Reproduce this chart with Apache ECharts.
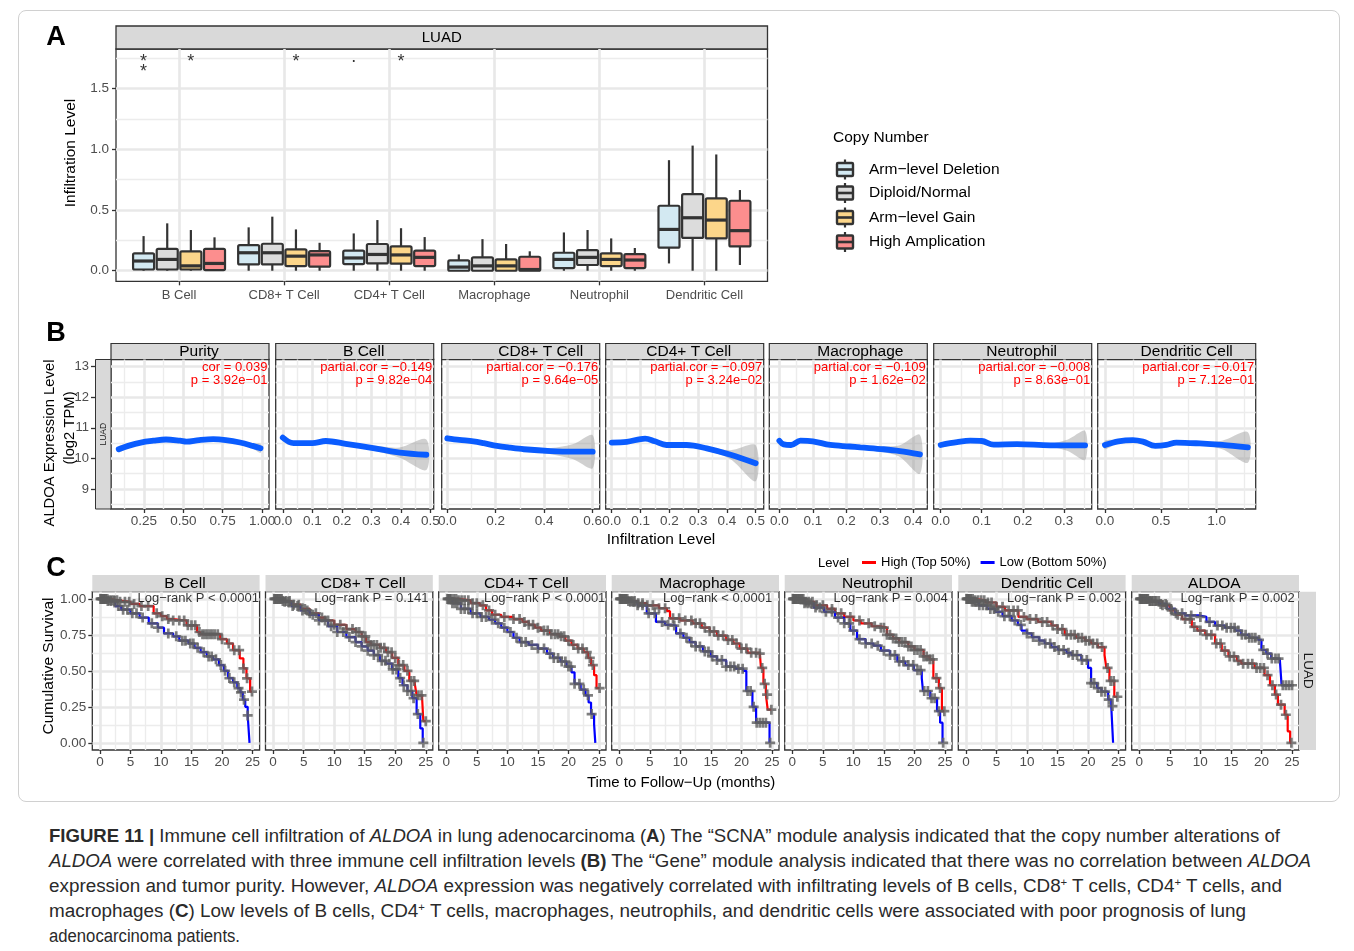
<!DOCTYPE html>
<html>
<head>
<meta charset="utf-8">
<script src="https://cdn.jsdelivr.net/npm/echarts@6/dist/echarts.min.js"></script>
<style>
  html, body { margin: 0; padding: 0; background: #fff; }
  #wrap { position: relative; width: 1354px; height: 951px; overflow: hidden; }
  #frame { position: absolute; left: 18px; top: 10px; width: 1320px; height: 790px; border: 1px solid #d0d0d0; border-radius: 8px; }
  #chart { position: absolute; left: 0; top: 0; width: 1354px; height: 810px; }
  .cap { position: absolute; left: 49px; white-space: nowrap; display: inline-block; transform-origin: 0 50%;
         font-family: "Liberation Sans Narrow", "Liberation Sans", Arial, sans-serif; font-size: 18px; color: #2a2a2a; line-height: 20px; }
  .cap sup { font-size: 60%; line-height: 0; vertical-align: 0.6em; }
</style>
</head>
<body>
<div id="wrap">
  <div id="frame"></div>
  <div id="chart"></div>
  <div class="cap" style="top:826px"><b>FIGURE 11 |</b> Immune cell infiltration of <i>ALDOA</i> in lung adenocarcinoma (<b>A</b>) The “SCNA” module analysis indicated that the copy number alterations of</div>
  <div class="cap" style="top:851px"><i>ALDOA</i> were correlated with three immune cell infiltration levels <b>(B)</b> The “Gene” module analysis indicated that there was no correlation between <i>ALDOA</i></div>
  <div class="cap" style="top:876px">expression and tumor purity. However, <i>ALDOA</i> expression was negatively correlated with infiltrating levels of B cells, CD8<sup>+</sup> T cells, CD4<sup>+</sup> T cells, and</div>
  <div class="cap" style="top:901px">macrophages (<b>C</b>) Low levels of B cells, CD4<sup>+</sup> T cells, macrophages, neutrophils, and dendritic cells were associated with poor prognosis of lung</div>
  <div class="cap" style="top:926px">adenocarcinoma patients.</div>
</div>
<script>
const FONT = '"Liberation Sans", Arial, Helvetica, sans-serif';

// ---------- Panel A: copy number box plots ----------
const cellTypes = ['B Cell', 'CD8+ T Cell', 'CD4+ T Cell', 'Macrophage', 'Neutrophil', 'Dendritic Cell'];
const copyNumber = ['Arm−level Deletion', 'Diploid/Normal', 'Arm−level Gain', 'High Amplication'];
const copyColors = ['#d3e9f2', '#dcdcdc', '#fcd68a', '#fc8e8e'];
// [lower whisker, Q1, median, Q3, upper whisker] per cell type
const boxDeletion = [[0, 0.01, 0.08, 0.143, 0.285], [0, 0.052, 0.148, 0.21, 0.357], [0, 0.055, 0.105, 0.165, 0.307], [0, 0.0, 0.03, 0.085, 0.134], [0, 0.022, 0.093, 0.148, 0.315], [0.06, 0.19, 0.34, 0.535, 0.91]];
const boxDiploid = [[0, 0.01, 0.093, 0.18, 0.39], [0, 0.052, 0.148, 0.222, 0.445], [0, 0.06, 0.134, 0.22, 0.417], [0, 0.0, 0.04, 0.11, 0.26], [0, 0.047, 0.11, 0.17, 0.335], [0, 0.27, 0.436, 0.63, 1.03]];
const boxGain = [[0, 0.01, 0.04, 0.16, 0.335], [0, 0.038, 0.12, 0.176, 0.34], [0, 0.058, 0.13, 0.2, 0.35], [0, 0.0, 0.04, 0.093, 0.22], [0, 0.038, 0.093, 0.143, 0.266], [0, 0.266, 0.417, 0.595, 0.957]];
const boxHighAmp = [[0, 0.005, 0.06, 0.18, 0.275], [0, 0.033, 0.13, 0.162, 0.23], [0, 0.038, 0.11, 0.165, 0.277], [0, 0.0, 0.01, 0.115, 0.16], [0, 0.022, 0.088, 0.137, 0.187], [0.047, 0.2, 0.33, 0.576, 0.664]];
const sigCell = [0, 0, 1, 2, 2];
const sigGroup = [0, 2, 2, 0, 2];
const sigMark = ['*\n*', '*', '*', '.', '*'];
const aYTicks = [0, 0.5, 1, 1.5];
const aYMinor = [0.25, 0.75, 1.25, 1.75];

// ---------- Panel B: correlation fits ----------
const corrPanels = ['Purity', 'B Cell', 'CD8+ T Cell', 'CD4+ T Cell', 'Macrophage', 'Neutrophil', 'Dendritic Cell'];
const corrLabel = ['cor = 0.039', 'partial.cor = −0.149', 'partial.cor = −0.176', 'partial.cor = −0.097', 'partial.cor = −0.109', 'partial.cor = −0.008', 'partial.cor = −0.017'];
const corrP = ['p = 3.92e−01', 'p = 9.82e−04', 'p = 9.64e−05', 'p = 3.24e−02', 'p = 1.62e−02', 'p = 8.63e−01', 'p = 7.12e−01'];
const purityX = [0.09, 0.15, 0.23, 0.31, 0.39, 0.48, 0.52, 0.60, 0.69, 0.77, 0.86, 0.94, 0.99];
const purityFit = [10.30, 10.41, 10.52, 10.58, 10.62, 10.58, 10.55, 10.60, 10.63, 10.60, 10.52, 10.41, 10.33];
const purityLo = [10.20, 10.35, 10.48, 10.55, 10.59, 10.55, 10.52, 10.57, 10.60, 10.56, 10.47, 10.33, 10.18];
const purityHi = [10.40, 10.47, 10.56, 10.61, 10.65, 10.61, 10.58, 10.63, 10.66, 10.64, 10.57, 10.49, 10.48];
const bcellX = [0.0, 0.036, 0.1, 0.146, 0.213, 0.306, 0.396, 0.486];
const bcellFit = [10.68, 10.50, 10.50, 10.57, 10.48, 10.34, 10.19, 10.12];
const bcellLo = [10.58, 10.45, 10.46, 10.53, 10.43, 10.26, 10.02, 9.62];
const bcellHi = [10.78, 10.55, 10.54, 10.61, 10.53, 10.42, 10.36, 10.62];
const cd8X = [0.0, 0.05, 0.108, 0.15, 0.205, 0.26, 0.316, 0.427, 0.52, 0.6];
const cd8Fit = [10.66, 10.61, 10.56, 10.50, 10.41, 10.35, 10.30, 10.24, 10.22, 10.22];
const cd8Lo = [10.58, 10.57, 10.52, 10.46, 10.37, 10.31, 10.25, 10.14, 9.97, 9.68];
const cd8Hi = [10.74, 10.65, 10.60, 10.54, 10.45, 10.39, 10.35, 10.34, 10.47, 10.76];
const cd4X = [0.0, 0.052, 0.116, 0.15, 0.19, 0.26, 0.33, 0.413, 0.5];
const cd4Fit = [10.52, 10.54, 10.65, 10.56, 10.44, 10.44, 10.33, 10.12, 9.84];
const cd4Lo = [10.45, 10.50, 10.61, 10.52, 10.40, 10.39, 10.26, 9.97, 9.25];
const cd4Hi = [10.59, 10.58, 10.69, 10.60, 10.48, 10.49, 10.40, 10.27, 10.43];
const macX = [0.0, 0.013, 0.035, 0.063, 0.1, 0.152, 0.21, 0.242, 0.311, 0.36, 0.42];
const macFit = [10.58, 10.46, 10.44, 10.58, 10.56, 10.44, 10.39, 10.36, 10.30, 10.24, 10.13];
const macLo = [10.48, 10.40, 10.39, 10.54, 10.52, 10.40, 10.34, 10.30, 10.20, 10.05, 9.50];
const macHi = [10.68, 10.52, 10.49, 10.62, 10.60, 10.48, 10.44, 10.42, 10.40, 10.43, 10.77];
const neuX = [0.0, 0.04, 0.072, 0.1, 0.129, 0.186, 0.267, 0.31, 0.352];
const neuFit = [10.44, 10.53, 10.58, 10.57, 10.45, 10.47, 10.43, 10.43, 10.43];
const neuLo = [10.36, 10.49, 10.54, 10.53, 10.41, 10.43, 10.37, 10.24, 9.95];
const neuHi = [10.52, 10.57, 10.62, 10.61, 10.49, 10.51, 10.49, 10.62, 10.90];
const dcX = [0.0, 0.12, 0.25, 0.34, 0.45, 0.55, 0.64, 0.85, 1.05, 1.28];
const dcFit = [10.44, 10.56, 10.60, 10.55, 10.41, 10.44, 10.52, 10.49, 10.44, 10.36];
const dcLo = [10.30, 10.51, 10.56, 10.51, 10.37, 10.40, 10.48, 10.44, 10.30, 9.86];
const dcHi = [10.58, 10.61, 10.64, 10.59, 10.45, 10.48, 10.56, 10.54, 10.58, 10.86];
const bYTicks = [9, 10, 11, 12, 13];
const bYMinor = [8.5, 9.5, 10.5, 11.5, 12.5];
const bXRange = [[0.041, 1.044], [-0.024, 0.511], [-0.023, 0.629], [-0.021, 0.528], [-0.03, 0.442], [-0.017, 0.368], [-0.065, 1.35]];
const bXTicks = [[0.25, 0.5, 0.75, 1], [0, 0.1, 0.2, 0.3, 0.4, 0.5], [0, 0.2, 0.4, 0.6], [0, 0.1, 0.2, 0.3, 0.4, 0.5], [0, 0.1, 0.2, 0.3, 0.4], [0, 0.1, 0.2, 0.3], [0, 0.5, 1]];
const bXMinor = [[0.125, 0.375, 0.625, 0.875], [0.05, 0.15, 0.25, 0.35, 0.45], [0.1, 0.3, 0.5], [0.05, 0.15, 0.25, 0.35, 0.45], [0.05, 0.15, 0.25, 0.35], [0.05, 0.15, 0.25, 0.35], [0.25, 0.75, 1.25]];
const bXDigits = [2, 1, 1, 1, 1, 1, 1];

// ---------- Panel C: Kaplan-Meier curves ----------
const kmPanels = ['B Cell', 'CD8+ T Cell', 'CD4+ T Cell', 'Macrophage', 'Neutrophil', 'Dendritic Cell', 'ALDOA'];
const logRank = ['Log−rank P < 0.0001', 'Log−rank P = 0.141', 'Log−rank P < 0.0001', 'Log−rank < 0.0001', 'Log−rank P = 0.004', 'Log−rank P = 0.002', 'Log−rank P = 0.002'];
// [time, survival after the drop]
const bcellHigh = [[0, 1], [1.5, 0.99], [3, 0.98], [5, 0.965], [6.5, 0.95], [8.8, 0.9], [10, 0.88], [11, 0.86], [12, 0.85], [14.2, 0.816], [15.9, 0.77], [16.4, 0.755], [19.7, 0.72], [20.8, 0.69], [21.8, 0.644], [22.9, 0.586], [23.5, 0.517], [24, 0.448], [24.6, 0.356], [24.9, 0.356]];
const bcellLow = [[0, 1], [1, 0.985], [2.5, 0.95], [3.5, 0.925], [5, 0.9], [6.5, 0.87], [8, 0.83], [9.5, 0.8], [10.5, 0.76], [12, 0.74], [13, 0.71], [14.5, 0.69], [15.5, 0.66], [16.5, 0.63], [17.5, 0.6], [18.5, 0.58], [19.5, 0.54], [20.3, 0.5], [21, 0.45], [21.8, 0.42], [22.5, 0.38], [23, 0.35], [23.4, 0.3], [23.8, 0.25], [24.2, 0.19], [24.5, 0]];
const cd8High = [[0, 1], [1.5, 0.985], [3, 0.96], [4.5, 0.93], [6, 0.9], [7.5, 0.87], [8.5, 0.85], [10, 0.82], [12, 0.79], [13.5, 0.77], [14.5, 0.74], [15.2, 0.7], [16, 0.68], [17.5, 0.66], [18.5, 0.63], [19.5, 0.59], [20.5, 0.54], [21.5, 0.5], [22.3, 0.43], [23.2, 0.41], [23.5, 0.33], [24.4, 0.31], [24.6, 0.15], [25, 0.15]];
const cd8Low = [[0, 1], [1.5, 0.98], [3, 0.95], [4.5, 0.92], [6, 0.89], [7.5, 0.85], [9, 0.81], [10.5, 0.77], [12, 0.735], [13.5, 0.7], [14.5, 0.67], [15.5, 0.64], [16.5, 0.61], [17.5, 0.57], [18.5, 0.55], [19.5, 0.51], [20.5, 0.45], [21.2, 0.4], [22, 0.36], [22.8, 0.31], [23.5, 0.2], [24.1, 0.1], [24.5, 0], [24.6, 0]];
const cd4High = [[0, 1], [2, 0.99], [4, 0.97], [5.5, 0.955], [6.5, 0.92], [7.5, 0.89], [9, 0.875], [11, 0.86], [12.5, 0.84], [13.5, 0.82], [14.5, 0.8], [15.5, 0.78], [17, 0.755], [18.5, 0.74], [19.5, 0.71], [20.5, 0.68], [21.5, 0.655], [22.5, 0.63], [23.2, 0.59], [23.7, 0.54], [24.2, 0.47], [24.6, 0.38], [25.1, 0.38]];
const cd4Low = [[0, 1], [1, 0.97], [2.4, 0.93], [4, 0.9], [5.6, 0.875], [7, 0.855], [8, 0.83], [9, 0.8], [10, 0.77], [11, 0.73], [12, 0.7], [13.5, 0.68], [15, 0.655], [16.5, 0.62], [17.5, 0.59], [18.7, 0.565], [19.7, 0.53], [20.5, 0.49], [21, 0.41], [22, 0.37], [22.8, 0.33], [23.3, 0.28], [23.7, 0.2], [24.2, 0.13], [24.4, 0]];
const macHigh = [[0, 1], [1.5, 0.985], [3, 0.97], [4.5, 0.955], [6.5, 0.935], [7.8, 0.915], [8.3, 0.865], [10, 0.85], [12, 0.83], [13.5, 0.8], [14.8, 0.775], [16, 0.745], [17.5, 0.715], [18.7, 0.69], [19.7, 0.655], [21, 0.625], [23, 0.62], [23.2, 0.52], [23.6, 0.41], [24, 0.335], [24.3, 0.23], [24.9, 0.23]];
const macLow = [[0, 1], [1.5, 0.98], [3, 0.955], [4.5, 0.9], [6, 0.84], [7.5, 0.82], [8.5, 0.815], [9.3, 0.76], [10.5, 0.73], [11.5, 0.7], [12.5, 0.67], [13.7, 0.635], [15, 0.6], [16, 0.575], [17.5, 0.53], [19, 0.515], [20.3, 0.5], [20.8, 0.36], [21.8, 0.25], [22.4, 0.14], [24.6, 0], [24.7, 0]];
const neuHigh = [[0, 1], [2, 0.98], [3.6, 0.955], [5.7, 0.93], [7, 0.9], [8.5, 0.875], [10, 0.85], [11.2, 0.83], [13, 0.81], [14.4, 0.8], [15.5, 0.75], [16.5, 0.725], [17.5, 0.7], [19, 0.67], [20, 0.645], [21.5, 0.6], [22.5, 0.58], [23.1, 0.45], [24, 0.38], [24.5, 0.22], [24.9, 0.22]];
const neuLow = [[0, 1], [2, 0.97], [3.5, 0.94], [5.2, 0.91], [7, 0.87], [8.5, 0.83], [9.5, 0.78], [10.6, 0.72], [12, 0.69], [13.3, 0.675], [14.5, 0.64], [16, 0.61], [17.2, 0.565], [18.5, 0.54], [19.9, 0.505], [21.2, 0.45], [21.4, 0.36], [22.6, 0.31], [23.7, 0.22], [24.2, 0.14], [24.6, 0]];
const dcHigh = [[0, 1], [1.5, 0.99], [3.2, 0.975], [5, 0.945], [6.4, 0.92], [8.6, 0.875], [10, 0.86], [11.8, 0.84], [14, 0.815], [15, 0.79], [16.2, 0.75], [18, 0.73], [19.5, 0.71], [20.5, 0.69], [21.6, 0.665], [22.7, 0.61], [23, 0.52], [23.5, 0.43], [24.3, 0.32], [24.8, 0.32]];
const dcLow = [[0, 1], [1, 0.98], [2.1, 0.955], [3.5, 0.93], [4.8, 0.91], [6, 0.88], [7.5, 0.85], [8.5, 0.82], [9.1, 0.78], [10, 0.76], [10.8, 0.735], [12, 0.71], [12.9, 0.69], [14, 0.665], [15.1, 0.645], [16.5, 0.625], [17.3, 0.61], [18.9, 0.575], [20, 0.52], [20.5, 0.415], [21.5, 0.38], [22.2, 0.355], [23.3, 0.3], [23.8, 0.255], [24.1, 0]];
const aldoaHigh = [[0, 1], [1.5, 0.985], [3.7, 0.955], [5, 0.92], [6, 0.89], [7, 0.86], [8.6, 0.805], [9.5, 0.78], [10.8, 0.75], [12.4, 0.69], [13.5, 0.64], [14.6, 0.6], [16, 0.57], [16.7, 0.55], [18.9, 0.52], [20.5, 0.47], [21.4, 0.4], [22.2, 0.335], [22.7, 0.265], [23.8, 0.195], [24.3, 0.08], [24.7, 0], [24.9, 0]];
const aldoaLow = [[0, 1], [1.5, 0.985], [3.2, 0.965], [4.5, 0.93], [5.9, 0.9], [7.5, 0.885], [9.7, 0.875], [11, 0.84], [12.4, 0.815], [14, 0.8], [15.7, 0.78], [16.7, 0.75], [18, 0.73], [19.5, 0.715], [20, 0.645], [20.8, 0.62], [21.6, 0.585], [23, 0.575], [23.3, 0.4], [25, 0.4]];
// censoring times
const bcellHighCens = [0.1, 0.3, 0.5, 0.7, 0.9, 1.2, 1.5, 1.9, 2.3, 2.8, 3.3, 4.1, 4.8, 5.6, 6.8, 7.9, 9.3, 10.2, 11.2, 12, 13, 13.8, 14.4, 15, 15.6, 16.3, 16.8, 17.2, 17.6, 18, 18.4, 18.8, 19.3, 20, 21.1, 22, 22.8, 23.5, 24.1, 24.9];
const bcellLowCens = [0.2, 0.4, 0.6, 0.9, 1.3, 1.8, 2.4, 3, 3.8, 4.5, 5.3, 6, 7, 8.5, 9.5, 11.2, 12.5, 13.5, 14, 14.8, 15.3, 16, 17, 17.8, 18.3, 19, 19.8, 20.5, 21.2, 22, 22.7, 23.1, 23.6, 24.2];
const cd8HighCens = [0.2, 0.5, 0.8, 1.2, 1.6, 2.1, 2.7, 3.4, 4.2, 5.2, 6, 7, 8, 9, 10, 11, 12, 13, 13.6, 14.1, 14.6, 15.1, 15.6, 16, 16.5, 17, 17.6, 18.2, 18.8, 19.4, 20, 20.6, 21.3, 22, 22.6, 23.1, 23.8, 24.3, 25];
const cd8LowCens = [0.3, 0.6, 1, 1.4, 1.9, 2.5, 3.2, 4, 4.8, 5.6, 6.5, 7.5, 8.5, 9.5, 10.5, 11.5, 12.5, 13.5, 14.5, 15.5, 16.5, 17.2, 17.8, 18.4, 19, 19.6, 20.2, 20.8, 21.4, 22, 22.6, 23, 23.7, 24.6];
const cd4HighCens = [0.2, 0.5, 0.8, 1.2, 1.6, 2, 2.5, 3, 3.6, 4.3, 5, 6, 7, 8, 9.5, 11, 12, 12.8, 13.5, 14.2, 15, 16, 16.6, 17.2, 17.8, 18.3, 18.8, 19.3, 20, 20.8, 21.6, 22.3, 23, 23.5, 24, 25.1];
const cd4LowCens = [0.3, 0.6, 1, 1.4, 1.8, 2.4, 3, 3.6, 4.3, 5, 5.8, 6.5, 7.5, 8.5, 9.5, 10.5, 11.5, 12.3, 13, 14, 15, 16, 17, 17.6, 18.3, 18.9, 19.5, 20, 20.4, 21, 21.8, 22.5, 23.2, 23.8];
const macHighCens = [0.1, 0.3, 0.5, 0.8, 1.1, 1.5, 2, 2.5, 3.1, 3.8, 4.6, 5.5, 6.5, 7.5, 8.8, 9.8, 10.8, 11.8, 12.5, 13.2, 14, 14.8, 15.5, 16.2, 17, 17.8, 18.5, 19.2, 20, 20.8, 21.6, 22.4, 23, 23.4, 23.8, 24.2, 24.9];
const macLowCens = [0.2, 0.4, 0.7, 1, 1.3, 1.8, 2.3, 3, 3.8, 4.8, 5.8, 7, 8, 9, 10, 11, 11.8, 12.5, 13.2, 14, 14.6, 15.2, 16, 16.8, 17.5, 18.2, 18.8, 19.5, 20.2, 21, 21.5, 22, 22.5, 23, 23.5, 24, 24.7];
const neuHighCens = [0.1, 0.3, 0.5, 0.8, 1.1, 1.4, 1.8, 2.2, 2.7, 3.3, 4, 5, 6.5, 8, 9.5, 11, 12.5, 13.5, 14.5, 15, 15.5, 16, 16.5, 17, 17.5, 18, 18.5, 19, 19.5, 20, 20.5, 21, 21.5, 22, 22.5, 23, 23.6, 24.2, 24.9];
const neuLowCens = [0.2, 0.4, 0.6, 0.9, 1.2, 1.6, 2, 2.5, 3, 3.8, 4.5, 5.5, 6.5, 7.5, 8.5, 9.3, 10, 11, 12, 13, 14, 15, 16, 16.8, 17.5, 18.2, 19, 19.8, 20.5, 21, 21.6, 22.2, 22.8, 23.3, 24, 24.7];
const dcHighCens = [0.1, 0.3, 0.5, 0.8, 1.1, 1.5, 2, 2.5, 3, 3.6, 4.2, 5, 6, 7, 7.8, 8.5, 9.5, 10.5, 11.5, 12.5, 13.3, 14.2, 15, 15.8, 16.5, 17.2, 17.8, 18.4, 19, 19.6, 20.2, 20.8, 21.5, 22.3, 23.2, 23.7, 24.2, 24.8];
const dcLowCens = [0.2, 0.4, 0.7, 1, 1.3, 1.7, 2.2, 2.8, 3.4, 4, 4.6, 5.3, 6.3, 7.2, 8, 9, 10, 11, 12, 13, 13.8, 14.5, 15.2, 16, 16.8, 17.5, 18.2, 19, 19.8, 20.5, 21, 21.6, 22.2, 22.8, 23.4, 24];
const aldoaHighCens = [0.2, 0.4, 0.7, 1, 1.3, 1.7, 2.1, 2.6, 3.2, 3.8, 4.5, 5.3, 6.3, 7.5, 8.3, 9, 10, 11, 11.8, 12.6, 13.3, 14, 14.8, 15.5, 16.2, 17, 17.8, 18.5, 19.2, 19.8, 20.4, 21, 21.8, 22.4, 23.2, 24, 24.9];
const aldoaLowCens = [0.1, 0.3, 0.5, 0.8, 1.1, 1.4, 1.8, 2.3, 2.8, 3.5, 4.3, 5.2, 6, 7, 8.5, 10, 11.5, 12.8, 13.6, 14.3, 15, 15.6, 16.2, 16.8, 17.4, 18, 18.5, 19, 19.6, 20.3, 21, 21.7, 22.3, 22.8, 23.5, 24, 24.5, 25];
const cXTicks = [0, 5, 10, 15, 20, 25];
const cXMinor = [2.5, 7.5, 12.5, 17.5, 22.5];
const cYTicks = [0, 0.25, 0.5, 0.75, 1];
const cYMinor = [0.125, 0.375, 0.625, 0.875];

// ---------- layout (pixels) ----------
const A_RECT = { left: 116, top: 49, width: 651.5, height: 232.3 };
const B_LEFTS = [111, 275.7, 441.7, 605.7, 769.3, 933.7, 1097.7];
const B_TOP = 359.5, B_W = 158, B_H = 149.5;
const B_STRIP_DX = [9, 9, 20, 4, 12, 9, 10];
const C_LEFTS = [92.3, 265.5, 438.7, 611.7, 784.7, 958.3, 1131.7];
const C_TOP = 591.7, C_W = 167.3, C_H = 158.3;
const C_STRIP_DX = [9, 14, 4, 7, 9, 5, -1];
const DODGE = [-0.3375, -0.1125, 0.1125, 0.3375];
const BOX_W = 0.2;
const SIG_Y = 1.76;
const LOGRANK_X = 16.1;
const GRID_MAJOR = '#e8e8e8';
const GRID_MINOR = '#ececec';

const grids = [], xAxes = [], yAxes = [], series = [], graphic = [];

function majorAxis(g, a, pos) {
  return {
    type: 'value', gridIndex: g, position: pos, min: a.min, max: a.max, offset: a.offset || 0,
    axisLine: { show: false, onZero: false },
    axisTick: { show: !!a.ticks, customValues: a.values, length: 4, lineStyle: { color: '#333', width: 1.3 } },
    axisLabel: { show: !!a.labels, customValues: a.values, formatter: a.fmt, color: '#4d4d4d',
                 fontSize: a.fontSize || 13, margin: a.margin || 6, fontFamily: FONT },
    splitLine: { show: true, lineStyle: { color: GRID_MAJOR, width: 2.6 } },
    minorTick: { show: false }, minorSplitLine: { show: false }
  };
}
function minorAxis(g, a, pos) {
  return {
    type: 'value', gridIndex: g, position: pos, min: a.min, max: a.max,
    axisLine: { show: false, onZero: false },
    axisTick: { show: false, customValues: a.minor },
    axisLabel: { show: false, customValues: a.minor },
    splitLine: { show: a.minor.length > 0, lineStyle: { color: GRID_MINOR, width: 1.4 } }
  };
}
function addGrid(rect, xa, ya) {
  const g = grids.length;
  grids.push({ left: rect.left, top: rect.top, width: rect.width, height: rect.height, show: true,
               borderColor: '#333', borderWidth: 1.3, backgroundColor: '#fff', containLabel: false, outerBoundsMode: 'none' });
  xAxes.push(majorAxis(g, xa, 'bottom'), minorAxis(g, xa, 'bottom'));
  yAxes.push(majorAxis(g, ya, 'left'), minorAxis(g, ya, 'left'));
  return g;
}
function text(x, y, str, size, opts) {
  return Object.assign({ type: 'text', x: x, y: y, z: 10,
    style: Object.assign({ text: str, fontSize: size, fontFamily: FONT, fill: '#000', align: 'center', verticalAlign: 'middle' }, (opts && opts.style) || {}) },
    opts && opts.rotation ? { rotation: opts.rotation } : {});
}

// ===== Panel A =====
const gA = addGrid(A_RECT,
  { min: -0.6, max: 5.6, values: [0, 1, 2, 3, 4, 5], minor: [], ticks: true, labels: true, fontSize: 13, margin: 8, fmt: v => cellTypes[Math.round(v)] || '' },
  { min: -0.087, max: 1.825, values: aYTicks, minor: aYMinor, ticks: true, labels: true, fontSize: 13.5, margin: 7, fmt: v => v.toFixed(1) });

function boxItem(api, color) {
  const x = api.value(0);
  const lo = api.coord([x, api.value(1)]);
  const q1 = api.coord([x, api.value(2)]);
  const md = api.coord([x, api.value(3)]);
  const q3 = api.coord([x, api.value(4)]);
  const hi = api.coord([x, api.value(5)]);
  const w = api.size([BOX_W, 0])[0];
  const cx = q1[0];
  const stroke = '#333';
  return { type: 'group', children: [
    { type: 'line', shape: { x1: cx, y1: lo[1], x2: cx, y2: q1[1] }, style: { stroke: stroke, lineWidth: 2.2 } },
    { type: 'line', shape: { x1: cx, y1: q3[1], x2: cx, y2: hi[1] }, style: { stroke: stroke, lineWidth: 2.2 } },
    { type: 'rect', shape: { x: cx - w / 2, y: q3[1], width: w, height: q1[1] - q3[1], r: 1.5 }, style: { fill: color, stroke: stroke, lineWidth: 2.2 } },
    { type: 'line', shape: { x1: cx - w / 2, y1: md[1], x2: cx + w / 2, y2: md[1] }, style: { stroke: stroke, lineWidth: 3.2 } }
  ] };
}
[boxDeletion, boxDiploid, boxGain, boxHighAmp].forEach((set, j) => {
  series.push({
    type: 'custom', name: copyNumber[j], xAxisIndex: 2 * gA, yAxisIndex: 2 * gA,
    data: set.map((b, i) => [i + DODGE[j]].concat(b)),
    encode: { x: 0, y: [1, 2, 3, 4, 5] },
    renderItem: (params, api) => boxItem(api, copyColors[j])
  });
});
series.push({
  type: 'scatter', xAxisIndex: 2 * gA, yAxisIndex: 2 * gA, symbolSize: 0.1, itemStyle: { color: 'rgba(0,0,0,0)' },
  data: sigCell.map((c, k) => ({ value: [c + DODGE[sigGroup[k]], SIG_Y], name: sigMark[k],
                                 label: sigMark[k] === '.' ? { offset: [0, -5] } : undefined })),
  label: { show: true, formatter: '{b}', position: 'inside', verticalAlign: 'top', lineHeight: 10, fontSize: 18, color: '#000', fontFamily: FONT },
  z: 5
});

graphic.push({ type: 'rect', shape: { x: A_RECT.left, y: 26, width: A_RECT.width, height: 23 }, style: { fill: '#d9d9d9', stroke: '#333', lineWidth: 1.3 } });
graphic.push(text(A_RECT.left + A_RECT.width / 2, 37.5, 'LUAD', 15));
graphic.push(text(71, 153, 'Infiltration Level', 15.5, { rotation: Math.PI / 2 }));
graphic.push(text(56, 38, 'A', 27, { style: { fontWeight: 'bold' } }));
graphic.push(text(833, 137.5, 'Copy Number', 15.5, { style: { align: 'left' } }));
const legY = [169.5, 193, 217.5, 242];
copyNumber.forEach((name, j) => {
  const y = legY[j];
  graphic.push({ type: 'line', shape: { x1: 845, y1: y - 10, x2: 845, y2: y + 10 }, style: { stroke: '#333', lineWidth: 2.2 } });
  graphic.push({ type: 'rect', shape: { x: 837, y: y - 6.5, width: 16, height: 13, r: 1 }, style: { fill: copyColors[j], stroke: '#333', lineWidth: 2.4 } });
  graphic.push({ type: 'line', shape: { x1: 837, y1: y, x2: 853, y2: y }, style: { stroke: '#333', lineWidth: 2.6 } });
  graphic.push(text(869, y, name, 15.5, { style: { align: 'left' } }));
});

// ===== Panel B =====
const fitX = [purityX, bcellX, cd8X, cd4X, macX, neuX, dcX];
const fitY = [purityFit, bcellFit, cd8Fit, cd4Fit, macFit, neuFit, dcFit];
const fitLo = [purityLo, bcellLo, cd8Lo, cd4Lo, macLo, neuLo, dcLo];
const fitHi = [purityHi, bcellHi, cd8Hi, cd4Hi, macHi, neuHi, dcHi];
corrPanels.forEach((name, i) => {
  const d = bXDigits[i];
  const g = addGrid({ left: B_LEFTS[i], top: B_TOP, width: B_W, height: B_H },
    { min: bXRange[i][0], max: bXRange[i][1], values: bXTicks[i], minor: bXMinor[i], ticks: true, labels: true, fontSize: 13.5, margin: 5, fmt: v => v.toFixed(d) },
    { min: 8.346, max: 13.236, values: bYTicks, minor: bYMinor, ticks: i === 0, labels: i === 0, offset: i === 0 ? 16 : 0, fontSize: 13, margin: 6, fmt: v => String(v) });
  const xs = fitX[i];
  // confidence band as a polygon through the axis scales
  series.push({
    type: 'custom', xAxisIndex: 2 * g, yAxisIndex: 2 * g, silent: true, z: 3,
    data: [[xs[0], fitLo[i][0]]],
    renderItem: (params, api) => {
      const upper = xs.map((x, k) => api.coord([x, fitHi[i][k]]));
      const lower = xs.map((x, k) => api.coord([x, fitLo[i][k]])).reverse();
      return { type: 'polygon', shape: { points: upper.concat(lower), smooth: 0.3 }, style: { fill: 'rgba(150,150,150,0.45)' } };
    }
  });
  series.push({
    type: 'line', xAxisIndex: 2 * g, yAxisIndex: 2 * g, symbol: 'none', smooth: 0.35, z: 4,
    lineStyle: { color: '#0a5cff', width: 5.8, cap: 'round' },
    data: xs.map((x, k) => [x, fitY[i][k]])
  });
  graphic.push({ type: 'rect', shape: { x: B_LEFTS[i], y: 343.5, width: B_W, height: 16 }, style: { fill: '#d9d9d9', stroke: '#333', lineWidth: 1.2 } });
  graphic.push(text(B_LEFTS[i] + B_W / 2 + B_STRIP_DX[i], 352, name, 15.5));
  graphic.push(text(B_LEFTS[i] + B_W - 1.5, 367, corrLabel[i], 13, { style: { align: 'right', fill: '#ff0000' } }));
  graphic.push(text(B_LEFTS[i] + B_W - 1.5, 380, corrP[i], 13, { style: { align: 'right', fill: '#ff0000' } }));
});
graphic.push({ type: 'rect', shape: { x: 95.5, y: B_TOP, width: 15.5, height: B_H }, style: { fill: '#d9d9d9', stroke: '#333', lineWidth: 1 } });
graphic.push(text(103.3, B_TOP + B_H / 2, 'LUAD', 8.5, { rotation: Math.PI / 2, style: { fill: '#1a1a1a' } }));
graphic.push(text(50, 443, 'ALDOA Expression Level', 14.8, { rotation: Math.PI / 2 }));
graphic.push(text(69.5, 428, '(log2 TPM)', 14.8, { rotation: Math.PI / 2 }));
graphic.push(text(661, 540, 'Infiltration Level', 15.5));
graphic.push(text(56, 334, 'B', 27, { style: { fontWeight: 'bold' } }));

// ===== Panel C =====
const kmHigh = [bcellHigh, cd8High, cd4High, macHigh, neuHigh, dcHigh, aldoaHigh];
const kmLow = [bcellLow, cd8Low, cd4Low, macLow, neuLow, dcLow, aldoaLow];
const censHigh = [bcellHighCens, cd8HighCens, cd4HighCens, macHighCens, neuHighCens, dcHighCens, aldoaHighCens];
const censLow = [bcellLowCens, cd8LowCens, cd4LowCens, macLowCens, neuLowCens, dcLowCens, aldoaLowCens];
function survAt(curve, t) {
  let s = curve[0][1];
  for (let k = 0; k < curve.length; k++) { if (curve[k][0] <= t) s = curve[k][1]; else break; }
  return s;
}
const CROSS = 'path://M4,0h3v4h4v3h-4v4h-3v-4h-4v-3h4z';
kmPanels.forEach((name, i) => {
  const g = addGrid({ left: C_LEFTS[i], top: C_TOP, width: C_W, height: C_H },
    { min: -1.245, max: 26.15, values: cXTicks, minor: cXMinor, ticks: true, labels: true, fontSize: 13.5, margin: 5, fmt: v => String(v) },
    { min: -0.05, max: 1.05, values: cYTicks, minor: cYMinor, ticks: i === 0, labels: i === 0, fontSize: 13.5, margin: 6, fmt: v => v.toFixed(2) });
  series.push({ type: 'line', name: 'High (Top 50%)', xAxisIndex: 2 * g, yAxisIndex: 2 * g, step: 'end', symbol: 'none',
                lineStyle: { color: '#ff0000', width: 2.2 }, itemStyle: { color: '#ff0000' }, data: kmHigh[i], z: 3 });
  series.push({ type: 'line', name: 'Low (Bottom 50%)', xAxisIndex: 2 * g, yAxisIndex: 2 * g, step: 'end', symbol: 'none',
                lineStyle: { color: '#0000ff', width: 2.2 }, itemStyle: { color: '#0000ff' }, data: kmLow[i], z: 3 });
  const marks = censHigh[i].map(t => [t, survAt(kmHigh[i], t)]).concat(censLow[i].map(t => [t, survAt(kmLow[i], t)]));
  series.push({ type: 'scatter', xAxisIndex: 2 * g, yAxisIndex: 2 * g, symbol: CROSS, symbolSize: 10, silent: true,
                itemStyle: { color: '#5e5e5e' }, data: marks, z: 4 });
  series.push({ type: 'scatter', xAxisIndex: 2 * g, yAxisIndex: 2 * g, symbolSize: 0.1, silent: true, itemStyle: { color: 'rgba(0,0,0,0)' },
                data: [{ value: [LOGRANK_X, 1.0], name: logRank[i] }], z: 6,
                label: { show: true, formatter: '{b}', position: 'inside', fontSize: 13, color: '#000', fontFamily: FONT } });
  graphic.push({ type: 'rect', shape: { x: C_LEFTS[i], y: 575, width: C_W, height: 16.7 }, style: { fill: '#d9d9d9' } });
  graphic.push(text(C_LEFTS[i] + C_W / 2 + C_STRIP_DX[i], 583.5, name, 15.5));
});
graphic.push({ type: 'rect', shape: { x: C_LEFTS[6] + C_W, y: C_TOP, width: 17, height: C_H }, style: { fill: '#d9d9d9' } });
graphic.push(text(C_LEFTS[6] + C_W + 8.5, C_TOP + C_H / 2, 'LUAD', 13.5, { rotation: -Math.PI / 2, style: { fill: '#1a1a1a' } }));
graphic.push(text(49, 666, 'Cumulative Survival', 15.5, { rotation: Math.PI / 2 }));
graphic.push(text(681, 783, 'Time to Follow−Up (months)', 15));
graphic.push(text(818, 563.5, 'Level', 13, { style: { align: 'left' } }));
graphic.push(text(56, 569, 'C', 27, { style: { fontWeight: 'bold' } }));

const chart = echarts.init(document.getElementById('chart'));
chart.setOption({
  animation: false,
  backgroundColor: 'transparent',
  textStyle: { fontFamily: FONT },
  grid: grids,
  xAxis: xAxes,
  yAxis: yAxes,
  legend: {
    data: ['High (Top 50%)', 'Low (Bottom 50%)'], left: 862, top: 556, padding: 0, icon: 'rect', itemWidth: 14, itemHeight: 3,
    itemGap: 10, selectedMode: false, textStyle: { fontSize: 13, color: '#000', fontFamily: FONT }
  },
  graphic: graphic,
  series: series
});

// fit each caption line to the width measured on the reference
const capRight = [1280, 1311, 1282, 1246, 240];
document.querySelectorAll('.cap').forEach((el, i) => {
  const w = el.getBoundingClientRect().width;
  el.style.transform = 'scaleX(' + ((capRight[i] - 49) / w).toFixed(4) + ')';
});
</script>
</body>
</html>
